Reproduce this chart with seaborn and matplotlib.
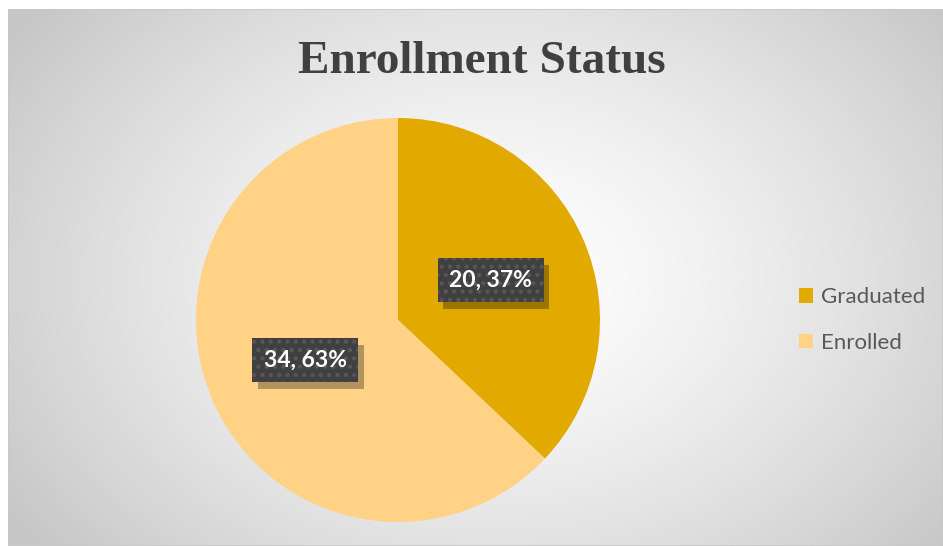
import numpy as np
import matplotlib
matplotlib.use("Agg")
import matplotlib.pyplot as plt
import matplotlib.patheffects as pe
import seaborn as sns

categories = ["Graduated", "Enrolled"]
values = [20, 34]
colors = ["#E2AA00", "#FFD286"]
title = "Enrollment Status"

sns.set_theme(style="white")
plt.rcParams["font.family"] = ["Lato", "DejaVu Sans"]

W, H = 943, 546
fig = plt.figure(figsize=(W / 100, H / 100), dpi=100)
fig.patch.set_facecolor("white")

# background panel with radial gradient
bx0, by0 = 8, 9
bg = fig.add_axes([bx0 / W, 0, (W - bx0) / W, (H - by0) / H])
bw, bh = W - bx0, H - by0
yy, xx = np.mgrid[0:bh, 0:bw]
cx, cy = bw * 0.52, bh * 0.50
d = np.sqrt(((xx - cx) / (bw * 0.62)) ** 2 + ((yy - cy) / (bh * 0.80)) ** 2)
d = np.clip(d, 0, 1)
v = 1.0 - 0.22 * d ** 1.4
img = np.dstack([v, v, v])
bg.imshow(img, aspect="auto", extent=[0, 1, 0, 1], interpolation="bilinear")
bg.set_xlim(0, 1)
bg.set_ylim(0, 1)
bg.axis("off")
bg.add_patch(plt.Rectangle((0, 0), 1, 1, transform=bg.transAxes, fill=False,
                           edgecolor="#c8c8c8", linewidth=1.2))

# pie axes
pcx, pcy, r = 398, 320, 202
ax = fig.add_axes([(pcx - r) / W, (H - pcy - r) / H, 2 * r / W, 2 * r / H])
ax.set_facecolor("none")
wedges, _ = ax.pie(values, colors=colors, startangle=90, counterclock=False,
                   radius=1.0, wedgeprops=dict(linewidth=0))
ax.set_xlim(-1, 1)
ax.set_ylim(-1, 1)
ax.set_aspect("equal")
ax.axis("off")

plt.rcParams["hatch.linewidth"] = 1.8
total = sum(values)
angle = 90.0
for val in values:
    sweep = 360.0 * val / total
    mid = np.deg2rad(angle - sweep / 2)
    angle -= sweep
    x, y = 0.5 * np.cos(mid), 0.5 * np.sin(mid)
    label = f"{val}, {round(100 * val / total)}%"
    t = ax.text(x, y, label, ha="center", va="center", fontsize=16.5,
                fontweight="bold", color="white",
                bbox=dict(boxstyle="square,pad=0.5", facecolor="#404040",
                          edgecolor="#575757", linewidth=0, hatch=".."))
    t.get_bbox_patch().set_path_effects([
        pe.SimplePatchShadow(offset=(4, -5), shadow_rgbFace="#000000",
                             alpha=0.3, hatch=None),
        pe.Normal()])

fig.text(482 / W, 1 - 62 / H, title, ha="center", va="center",
         fontsize=34, fontweight="bold", color="#404040",
         family=["Liberation Serif", "DejaVu Serif"])

leg = fig.legend(wedges, categories, loc="center left",
                 bbox_to_anchor=(779 / W, 1 - 320 / H), frameon=False,
                 fontsize=16, handlelength=0.65, handleheight=0.65,
                 handletextpad=0.35, labelspacing=1.15)
for tx in leg.get_texts():
    tx.set_color("#595959")

fig.savefig("out.png", dpi=100)
